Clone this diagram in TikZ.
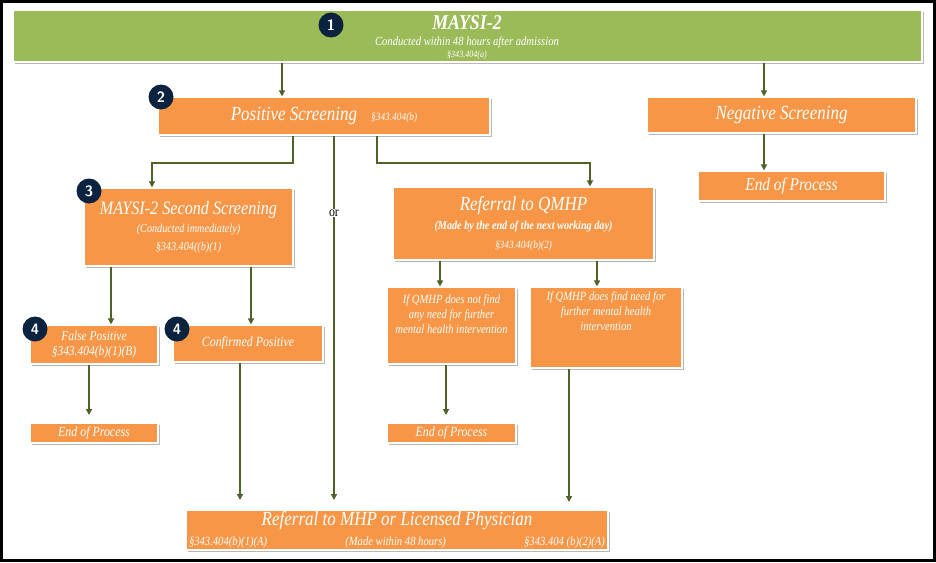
\documentclass[tikz,border=0pt]{standalone}
\usepackage{fontspec}
\setmainfont{Liberation Serif}[FakeStretch=0.85]
\usetikzlibrary{shadows,arrows.meta}
\definecolor{grn}{HTML}{9BBB59}
\definecolor{org}{HTML}{F79646}
\definecolor{arr}{HTML}{4F6228}
\definecolor{navy}{HTML}{0C2340}
\begin{document}
\begin{tikzpicture}[x=1pt,y=-1pt,
  box/.style={draw=white,line width=1.2pt,fill=org,text=white,font=\itshape,align=center,inner sep=1pt,
    drop shadow={shadow xshift=2pt,shadow yshift=-2pt,fill=black!35,opacity=0.8}},
  badge/.style={circle,fill=navy,text=white,font=\sffamily\bfseries\fontsize{15}{15}\selectfont,minimum size=25pt,inner sep=0pt},
  ar/.style={draw=arr,line width=1.6pt,-{Triangle[length=6pt,width=6pt]}}]
\useasboundingbox (0,0) rectangle (936,562);
\fill[white] (0,0) rectangle (936,562);
\draw[black,line width=3pt] (1.5,1.5) rectangle (934.5,560.5);
% boxes
\node[box,fill=grn,minimum width=909pt,minimum height=52pt] (m) at (467.5,36) {};
\node[text=white,font=\itshape\bfseries\fontsize{21}{21}\selectfont] (mt) at (467,23) {MAYSI-2};
\node[text=white,font=\itshape\fontsize{12.5}{12.5}\selectfont] (ms) at (467,42) {Conducted within 48 hours after admission};
\node[text=white,font=\itshape\fontsize{9.5}{9.5}\selectfont] (mr) at (467,55) {§343.404(a)};
\node[box,minimum width=332pt,minimum height=38pt,font=\itshape\fontsize{20}{20}\selectfont] (p) at (324,116) {Positive Screening\hspace{14pt}{\fontsize{11}{11}\selectfont §343.404(b)}};
\node[box,minimum width=269pt,minimum height=36pt,font=\itshape\fontsize{20}{20}\selectfont] (n) at (781.5,115) {Negative Screening};
\node[box,minimum width=187pt,minimum height=30pt,font=\itshape\fontsize{18}{18}\selectfont] (ne) at (791.5,186) {End of Process};
\node[box,minimum width=209pt,minimum height=78pt,font=\itshape\fontsize{19}{21}\selectfont] (s) at (188.5,227) {MAYSI-2 Second Screening\\[-3pt]{\fontsize{12}{14}\selectfont (Conducted immediately)}\\[-3pt]{\fontsize{12}{14}\selectfont §343.404((b)(1)}};
\node[box,minimum width=261pt,minimum height=73pt,font=\itshape\fontsize{20}{22}\selectfont] (q) at (523.5,223.5) {Referral to QMHP\\[-3pt]{\fontsize{12}{14}\selectfont\bfseries (Made by the end of the next working day)}\\[-3pt]{\fontsize{11}{13}\selectfont §343.404(b)(2)}};
\node[box,minimum width=128pt,minimum height=39pt,font=\itshape\fontsize{13.5}{15}\selectfont] (fp) at (94,344.5) {False Positive\\§343.404(b)(1)(B)};
\node[box,minimum width=150pt,minimum height=37pt,font=\itshape\fontsize{14}{15}\selectfont] (cp) at (248,343.5) {Confirmed Positive};
\node[box,minimum width=129pt,minimum height=77pt,font=\itshape\fontsize{12.5}{15}\selectfont] (qn) at (451.5,325.5) {If QMHP does not find\\any need for further\\mental health intervention\\[8pt]};
\node[box,minimum width=152pt,minimum height=81pt,font=\itshape\fontsize{12.5}{15}\selectfont] (qd) at (606,327.5) {If QMHP does find need for\\further mental health\\intervention\\[18pt]};
\node[box,minimum width=128pt,minimum height=20pt,font=\itshape\fontsize{14}{14}\selectfont] (e1) at (94,433) {End of Process};
\node[box,minimum width=129pt,minimum height=20pt,font=\itshape\fontsize{14}{14}\selectfont] (e2) at (451.5,433) {End of Process};
\node[box,minimum width=422pt,minimum height=40pt,font=\itshape\fontsize{20}{20}\selectfont] (f) at (397,530) {Referral to MHP or Licensed Physician\\{\fontsize{12.5}{14}\selectfont\makebox[416pt]{§343.404(b)(1)(A)\hfill(Made within 48 hours)\hfill§343.404 (b)(2)(A)}}};
% badges
\node[badge] (b1) at (331,25) {1};
\node[badge] (b2) at (161,97) {2};
\node[badge] (b3) at (89,191) {3};
\node[badge] (b4a) at (35,329) {4};
\node[badge] (b4b) at (177,329) {4};
% arrows
\draw[ar] (m.south -| 282,0) -- (p.north -| 282,0);
\draw[ar] (m.south -| 764,0) -- (n.north -| 764,0);
\draw[ar] (n.south -| 764,0) -- (ne.north -| 764,0);
\draw[ar] (p.south -| 293,0) -- (293,163) -- (152,163) -- (s.north -| 152,0);
\draw[ar] (p.south -| 334,0) -- (334,500);
\node[font=\fontsize{14}{14}\selectfont,fill=white,inner sep=1pt] (or) at (334,213) {or};
\draw[ar] (p.south -| 377,0) -- (377,163) -- (590,163) -- (q.north -| 590,0);
\draw[ar] (s.south -| 111,0) -- (fp.north -| 111,0);
\draw[ar] (s.south -| 251,0) -- (cp.north -| 251,0);
\draw[ar] (fp.south -| 89,0) -- (89,415);
\draw[ar] (cp.south -| 240,0) -- (240,500);
\draw[ar] (q.south -| 440,0) -- (qn.north -| 440,0);
\draw[ar] (q.south -| 597,0) -- (qd.north -| 597,0);
\draw[ar] (qn.south -| 446,0) -- (446,415);
\draw[ar] (qd.south -| 569,0) -- (569,502);
\end{tikzpicture}
\end{document}
